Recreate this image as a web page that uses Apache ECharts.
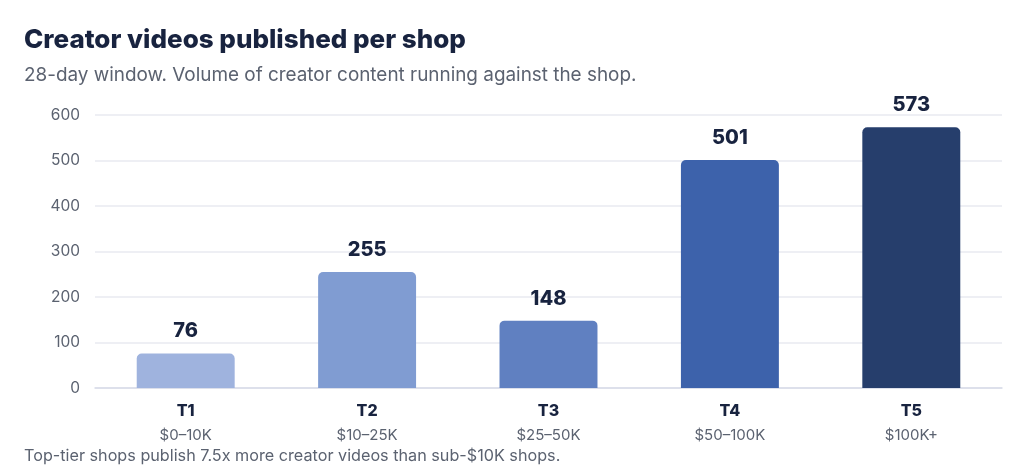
<!DOCTYPE html>
<html><head><meta charset="utf-8">
<script src="https://cdn.jsdelivr.net/npm/echarts@6/dist/echarts.min.js"></script>
<style>html,body{margin:0;padding:0;background:#fff}#c{width:1024px;height:475px}</style>
</head><body><div id="c"></div>
<script>
const tiers = ['T1','T2','T3','T4','T5'];
const ranges = ['$0–10K','$10–25K','$25–50K','$50–100K','$100K+'];
const values = [76,255,148,501,573];
const colors = ['#9fb3de','#809cd2','#6080c1','#3d62ab','#263e6c'];
const yTicks = [0,100,200,300,400,500,600];
const title = 'Creator videos published per shop';
const subtitle = '28-day window. Volume of creator content running against the shop.';
const footer = 'Top-tier shops publish 7.5x more creator videos than sub-$10K shops.';
const F = 'Inter, Lato, "Noto Sans", sans-serif';
const chart = echarts.init(document.getElementById('c'));
chart.setOption({
  animation:false,
  textStyle:{fontFamily:F},
  title:[
    {text:title,left:19,top:22,textStyle:{fontFamily:F,fontSize:26,fontWeight:800,color:'#18233f'}},
    {text:subtitle,left:19,top:61,textStyle:{fontFamily:F,fontSize:18.9,fontWeight:400,color:'#5b6270'}},
    {text:footer,left:19,bottom:6,textStyle:{fontFamily:F,fontSize:16.2,fontWeight:400,color:'#5b6270'}}
  ],
  grid:{left:95,right:22,top:115,bottom:87},
  xAxis:{type:'category',data:tiers.map((t,i)=>t+'|'+ranges[i]),
    axisTick:{show:false},axisLine:{lineStyle:{color:'#d8dce8',width:1.5}},
    axisLabel:{margin:10,formatter:v=>{const p=v.split('|');return '{a|'+p[0]+'}\n{b|'+p[1]+'}';},
      rich:{a:{fontFamily:F,fontSize:16,fontWeight:800,color:'#18233f',lineHeight:26},
            b:{fontFamily:F,fontSize:15,color:'#5b6270',lineHeight:22}}}},
  yAxis:{type:'value',min:yTicks[0],max:yTicks[yTicks.length-1],interval:100,
    axisLine:{show:false},axisTick:{show:false},
    splitLine:{lineStyle:{color:'#e8eaf1',width:1.5}},
    axisLabel:{margin:15,fontFamily:F,fontSize:15.5,color:'#5b6270'}},
  series:[{type:'bar',barWidth:'54%',
    data:values.map((v,i)=>({value:v,itemStyle:{color:colors[i]}})),
    itemStyle:{borderRadius:[5,5,0,0]},
    label:{show:true,position:'top',distance:12,fontFamily:F,fontSize:20,fontWeight:800,color:'#18233f'}}]
});
</script></body></html>
